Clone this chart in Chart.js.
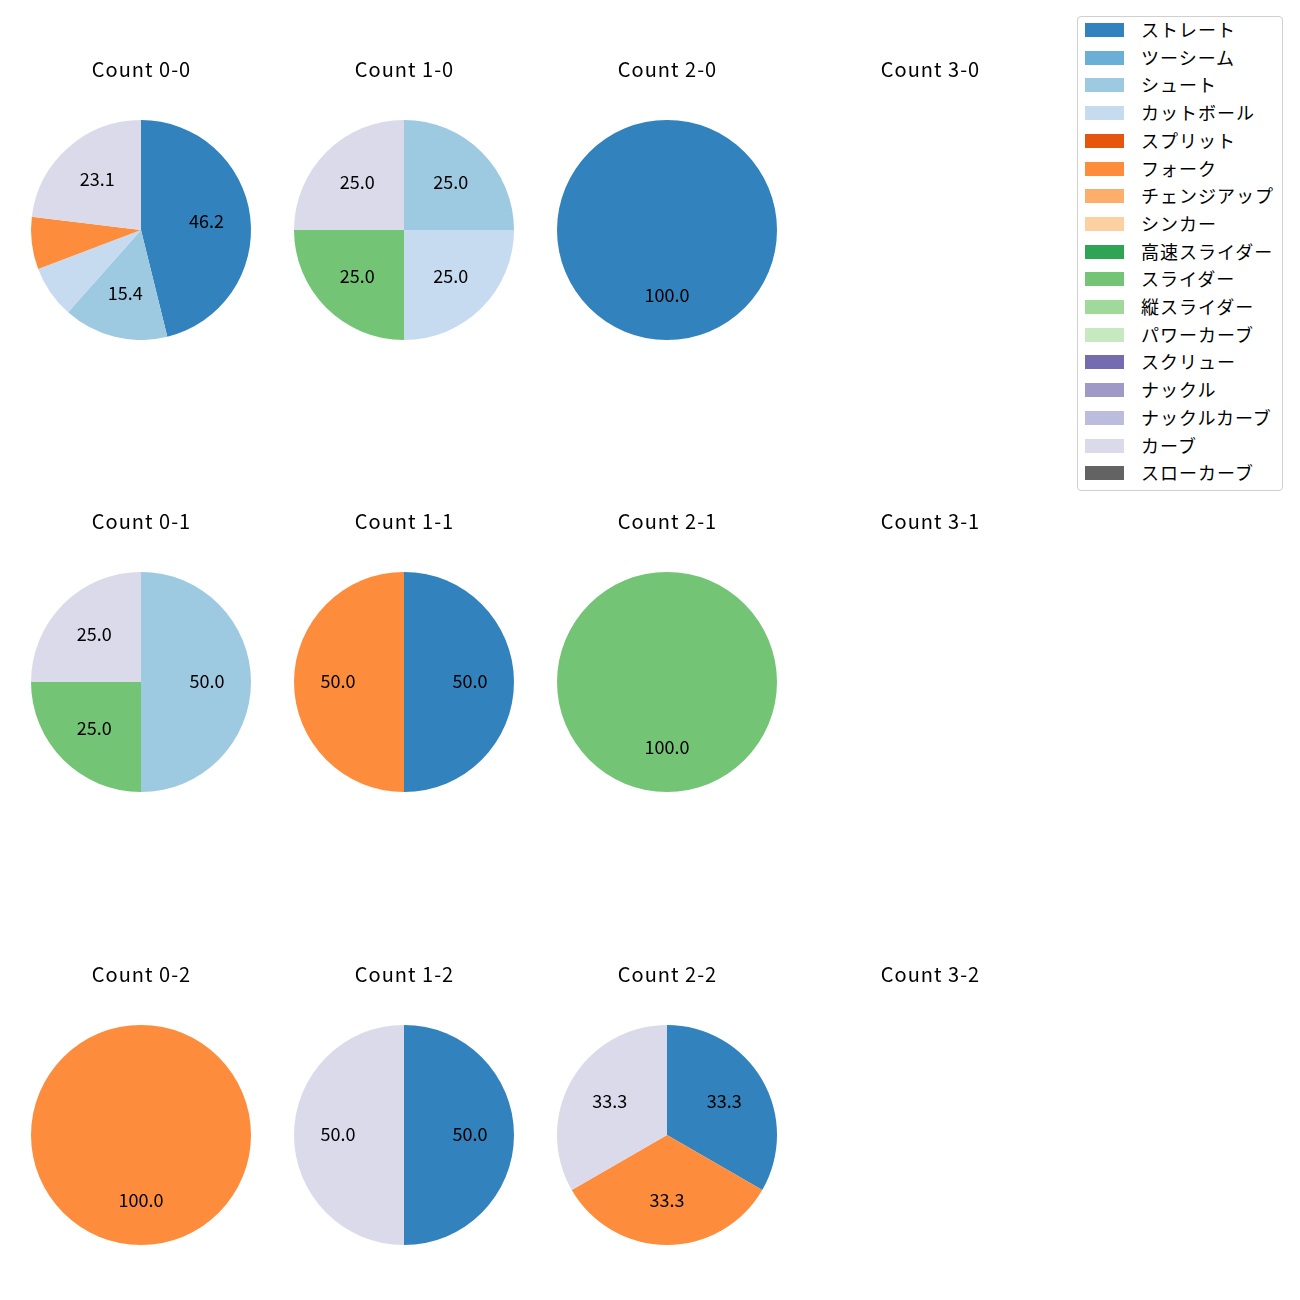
<!DOCTYPE html>
<html><head><meta charset="utf-8">
<script src="https://cdn.jsdelivr.net/npm/chart.js@4"></script>
<style>
html,body{margin:0;padding:0;background:#fff;}
#wrap{position:relative;width:1300px;height:1300px;}
canvas.pie{position:absolute;}
#legend{position:absolute;left:1077px;top:16px;width:204px;height:473px;border:1px solid #d0d0d0;border-radius:4px;background:#fff;box-sizing:content-box;}
.li{position:absolute;left:0;height:20px;}
.sw{position:absolute;left:7px;width:39px;height:14px;}
.lt{position:absolute;left:63px;white-space:nowrap;font-family:"Noto Sans CJK JP";font-size:18px;letter-spacing:1px;line-height:20px;color:#000;}
</style></head>
<body><div id="wrap"><div id="legend"></div></div>
<script>
const pitchTypes = ["ストレート","ツーシーム","シュート","カットボール","スプリット","フォーク","チェンジアップ","シンカー","高速スライダー","スライダー","縦スライダー","パワーカーブ","スクリュー","ナックル","ナックルカーブ","カーブ","スローカーブ"];
const pitchColors = ["#3182bd","#6baed6","#9ecae1","#c6dbef","#e6550d","#fd8d3c","#fdae6b","#fdd0a2","#31a354","#74c476","#a1d99b","#c7e9c0","#756bb1","#9e9ac8","#bcbddc","#dadaeb","#636363"];
const countTitles = [["Count 0-0","Count 1-0","Count 2-0","Count 3-0"],["Count 0-1","Count 1-1","Count 2-1","Count 3-1"],["Count 0-2","Count 1-2","Count 2-2","Count 3-2"]];
// pitch counts per count situation, in pitchTypes order
const c00 = [6,0,2,1,0,1,0,0,0,0,0,0,0,0,0,3,0];
const c10 = [0,0,1,1,0,0,0,0,0,1,0,0,0,0,0,1,0];
const c20 = [1,0,0,0,0,0,0,0,0,0,0,0,0,0,0,0,0];
const c30 = [0,0,0,0,0,0,0,0,0,0,0,0,0,0,0,0,0];
const c01 = [0,0,2,0,0,0,0,0,0,1,0,0,0,0,0,1,0];
const c11 = [1,0,0,0,0,1,0,0,0,0,0,0,0,0,0,0,0];
const c21 = [0,0,0,0,0,0,0,0,0,1,0,0,0,0,0,0,0];
const c31 = [0,0,0,0,0,0,0,0,0,0,0,0,0,0,0,0,0];
const c02 = [0,0,0,0,0,1,0,0,0,0,0,0,0,0,0,0,0];
const c12 = [1,0,0,0,0,0,0,0,0,0,0,0,0,0,0,1,0];
const c22 = [1,0,0,0,0,1,0,0,0,0,0,0,0,0,0,1,0];
const c32 = [0,0,0,0,0,0,0,0,0,0,0,0,0,0,0,0,0];
const grid = [[c00,c10,c20,c30],[c01,c11,c21,c31],[c02,c12,c22,c32]];

const colX = [141,404,667,930];
const rowY = [230,682,1135];
const R = 110;
const W = 262, H = 300, TOP = 80;
const wrap = document.getElementById('wrap');

const labelPlugin = {
  id:'pieLabels',
  afterDraw(chart, args, opts){
    const ctx = chart.ctx;
    ctx.save();
    ctx.fillStyle = '#000';
    ctx.textAlign = 'center';
    ctx.textBaseline = 'middle';
    ctx.font = '20px "Noto Sans CJK JP"';
    try { ctx.letterSpacing = '1px'; } catch(e) {}
    ctx.fillText(opts.title, chart.width/2 + 0.5, TOP - 51);
    try { ctx.letterSpacing = '0px'; } catch(e) {}
    const meta = chart.getDatasetMeta(0);
    const vals = chart.data.datasets[0].data;
    const total = vals.reduce((a,b)=>a+b,0);
    ctx.font = '18px "Noto Sans CJK JP"';
    if (total > 0) {
      meta.data.forEach((arc,i)=>{
        const v = vals[i];
        if (!v) return;
        const pct = v/total*100;
        if (pct < 10) return;
        const p = arc.getProps(['startAngle','endAngle','x','y','outerRadius'], true);
        const mid = (p.startAngle + p.endAngle)/2;
        const r = p.outerRadius*0.6;
        ctx.fillText(pct.toFixed(1), p.x + Math.cos(mid)*r, p.y + Math.sin(mid)*r - 1);
      });
    }
    ctx.restore();
  }
};

grid.forEach((row, ri)=>{
  row.forEach((vals, ci)=>{
    const cv = document.createElement('canvas');
    cv.className = 'pie';
    cv.width = W; cv.height = H;
    cv.style.left = (colX[ci] - W/2) + 'px';
    cv.style.top = (rowY[ri] - R - TOP) + 'px';
    cv.style.width = W + 'px';
    cv.style.height = H + 'px';
    wrap.appendChild(cv);
    new Chart(cv, {
      type:'pie',
      data:{labels:pitchTypes, datasets:[{data:vals, backgroundColor:pitchColors, borderWidth:0}]},
      options:{
        responsive:false, animation:false, devicePixelRatio:1,
        layout:{padding:{left:(W-2*R)/2, right:(W-2*R)/2, top:TOP, bottom:H-TOP-2*R}},
        plugins:{legend:{display:false}, tooltip:{enabled:false}, pieLabels:{title:countTitles[ri][ci]}}
      },
      plugins:[labelPlugin]
    });
  });
});

const lg = document.getElementById('legend');
pitchTypes.forEach((n,i)=>{
  const d = document.createElement('div');
  d.className='li';
  d.style.top = (13 - 11 + i*27.7) + 'px';
  d.innerHTML = '<div class="sw" style="top:4px;background:'+pitchColors[i]+'"></div><div class="lt">'+n+'</div>';
  lg.appendChild(d);
});
</script></body></html>
